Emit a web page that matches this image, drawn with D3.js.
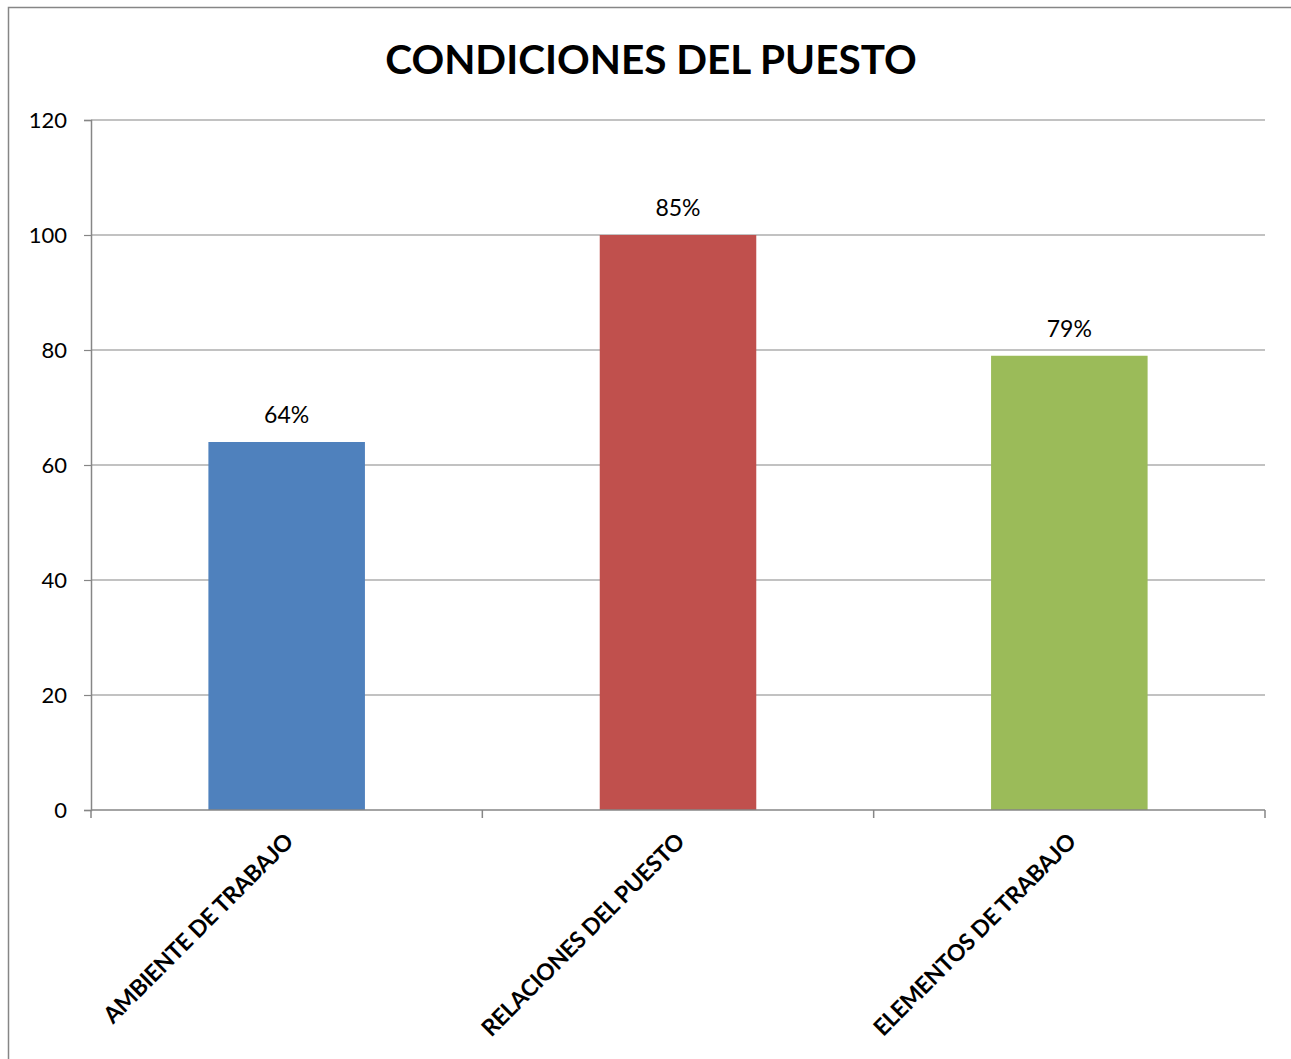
<!DOCTYPE html>
<html><head><meta charset="utf-8">
<script src="https://cdn.jsdelivr.net/npm/d3@7"></script>
<style>body{margin:0;background:#fff;} svg{display:block;}</style>
</head><body>
<script>
const categories = ["AMBIENTE DE TRABAJO", "RELACIONES DEL PUESTO", "ELEMENTOS DE TRABAJO"];
const values = [64, 100, 79];
const labels = ["64%", "85%", "79%"];
const colors = ["#4F81BD", "#C0504D", "#9BBB59"];
const yTicks = [0, 20, 40, 60, 80, 100, 120];
const title = "CONDICIONES DEL PUESTO";

const W = 1291, H = 1059;
const font = "Lato, 'Open Sans', sans-serif";
const svg = d3.select("body").append("svg").attr("width", W).attr("height", H);
svg.append("rect").attr("x", 8.5).attr("y", 7.5).attr("width", 1300).attr("height", 1100)
  .attr("fill", "#fff").attr("stroke", "#868686").attr("stroke-width", 1.5);

const m = {left: 91, right: 1265, top: 120, bottom: 810};
const x = d3.scaleBand().domain(categories).range([m.left, m.right]).paddingInner(0.6).paddingOuter(0.3);
const y = d3.scaleLinear().domain([0, 120]).range([m.bottom, m.top]);

svg.append("text").attr("x", 651).attr("y", 74).attr("text-anchor", "middle")
  .attr("font-family", font).attr("font-weight", "bold").attr("font-size", 40.5).attr("fill", "#000").text(title);

// gridlines
svg.append("g").selectAll("line").data(yTicks.filter(d => d > 0)).join("line")
  .attr("x1", m.left).attr("x2", m.right).attr("y1", d => y(d)).attr("y2", d => y(d))
  .attr("stroke", "#868686").attr("stroke-width", 1.2);

// bars
svg.append("g").selectAll("rect").data(values).join("rect")
  .attr("x", (d, i) => x(categories[i])).attr("width", x.bandwidth())
  .attr("y", d => y(d)).attr("height", d => y(0) - y(d)).attr("fill", (d, i) => colors[i]);

// y axis
const ya = svg.append("g").attr("transform", `translate(${m.left},0)`)
  .call(d3.axisLeft(y).tickValues(yTicks).tickSize(7).tickPadding(17));
ya.select(".domain").attr("stroke", "#868686").attr("stroke-width", 1.5);
ya.selectAll(".tick line").attr("stroke", "#868686").attr("stroke-width", 1.2);
ya.selectAll("text").attr("font-family", font).attr("font-size", 22).attr("fill", "#000");

// x axis
const bounds = d3.range(categories.length + 1).map(i => m.left + i * (m.right - m.left) / categories.length);
svg.append("line").attr("x1", m.left).attr("x2", m.right).attr("y1", y(0)).attr("y2", y(0))
  .attr("stroke", "#868686").attr("stroke-width", 1.5);
svg.append("g").selectAll("line").data(bounds).join("line")
  .attr("x1", d => d).attr("x2", d => d).attr("y1", y(0)).attr("y2", y(0) + 8)
  .attr("stroke", "#868686").attr("stroke-width", 1.5);

svg.append("g").selectAll("text").data(categories).join("text")
  .attr("transform", d => `translate(${x(d) + x.bandwidth() / 2 + 8},${y(0) + 33}) rotate(-45)`)
  .attr("text-anchor", "end").attr("font-family", font).attr("font-weight", "bold")
  .attr("font-size", 23).attr("letter-spacing", -0.3).attr("fill", "#000").text(d => d);

// data labels
svg.append("g").selectAll("text").data(values).join("text")
  .attr("x", (d, i) => x(categories[i]) + x.bandwidth() / 2).attr("y", d => y(d) - 19)
  .attr("text-anchor", "middle").attr("font-family", font).attr("font-size", 23).attr("fill", "#000")
  .text((d, i) => labels[i]);
</script>
</body></html>
